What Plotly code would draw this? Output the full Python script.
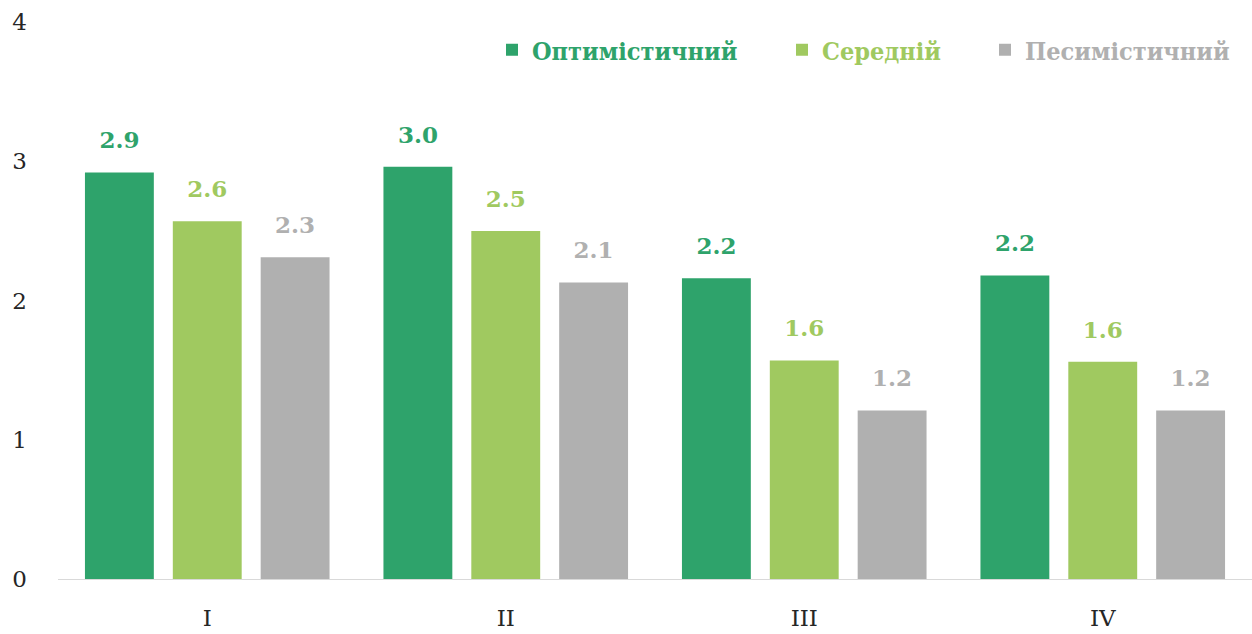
import plotly.graph_objects as go

# Quarters and scenario values
quarters = ["I", "II", "III", "IV"]
optimistic = [2.92, 2.96, 2.16, 2.18]
average = [2.57, 2.50, 1.57, 1.56]
pessimistic = [2.31, 2.13, 1.21, 1.21]

series_names = ["Оптимістичний", "Середній", "Песимістичний"]
series_values = [optimistic, average, pessimistic]
series_colors = ["#2ea36b", "#a0c960", "#b0b0b0"]
legend_ids = ["legend", "legend2", "legend3"]
legend_left_px = [492, 782, 985]

W, H = 1252, 634
ML, MR, MT, MB = 58, 0, 22, 55
GAP = 0.117

fig = go.Figure()

for name, vals, col, lg in zip(series_names, series_values, series_colors, legend_ids):
    fig.add_trace(go.Bar(
        x=quarters, y=vals, name=f"<b>{name}</b>",
        marker=dict(color=col, line=dict(width=0)),
        offsetgroup=name, legendgroup=name, legend=lg,
        hoverinfo="skip",
    ))
    # value labels floating above each bar
    fig.add_trace(go.Scatter(
        x=quarters, y=vals, mode="markers+text",
        offsetgroup=name, legendgroup=name, showlegend=False,
        marker=dict(size=28, opacity=0),
        texttemplate="<b>%{y:.1f}</b>", textposition="top center",
        textfont=dict(family="DejaVu Serif", size=23, color=col),
        hoverinfo="skip", cliponaxis=False,
    ))

plot_w = W - ML - MR
plot_h = H - MT - MB
legends = {}
for lg, col, left in zip(legend_ids, series_colors, legend_left_px):
    legends[lg] = dict(
        orientation="h", xref="paper", yref="paper",
        x=(left - ML) / plot_w, xanchor="left",
        y=(H - MB - 50) / plot_h, yanchor="middle",
        font=dict(family="DejaVu Serif Condensed", size=25, color=col),
        bgcolor="rgba(0,0,0,0)",
    )

fig.update_layout(
    width=W, height=H,
    margin=dict(l=ML, r=MR, t=MT, b=MB),
    paper_bgcolor="white", plot_bgcolor="white",
    barmode="group", bargap=GAP, bargroupgap=0.216,
    scattermode="group", scattergap=GAP,
    font=dict(family="DejaVu Serif", color="#262626"),
    showlegend=True,
    xaxis=dict(
        showgrid=False, showline=True, linecolor="#d9d9d9", linewidth=1,
        ticks="", tickfont=dict(size=23, color="#262626"),
        ticklabelstandoff=18, automargin=False,
    ),
    yaxis=dict(
        range=[0, 4], dtick=1, showgrid=False, zeroline=False,
        showline=False, ticks="", tickfont=dict(size=23, color="#262626"),
        ticklabelstandoff=30, automargin=False,
    ),
    **legends,
)

fig.write_html("out.html")
